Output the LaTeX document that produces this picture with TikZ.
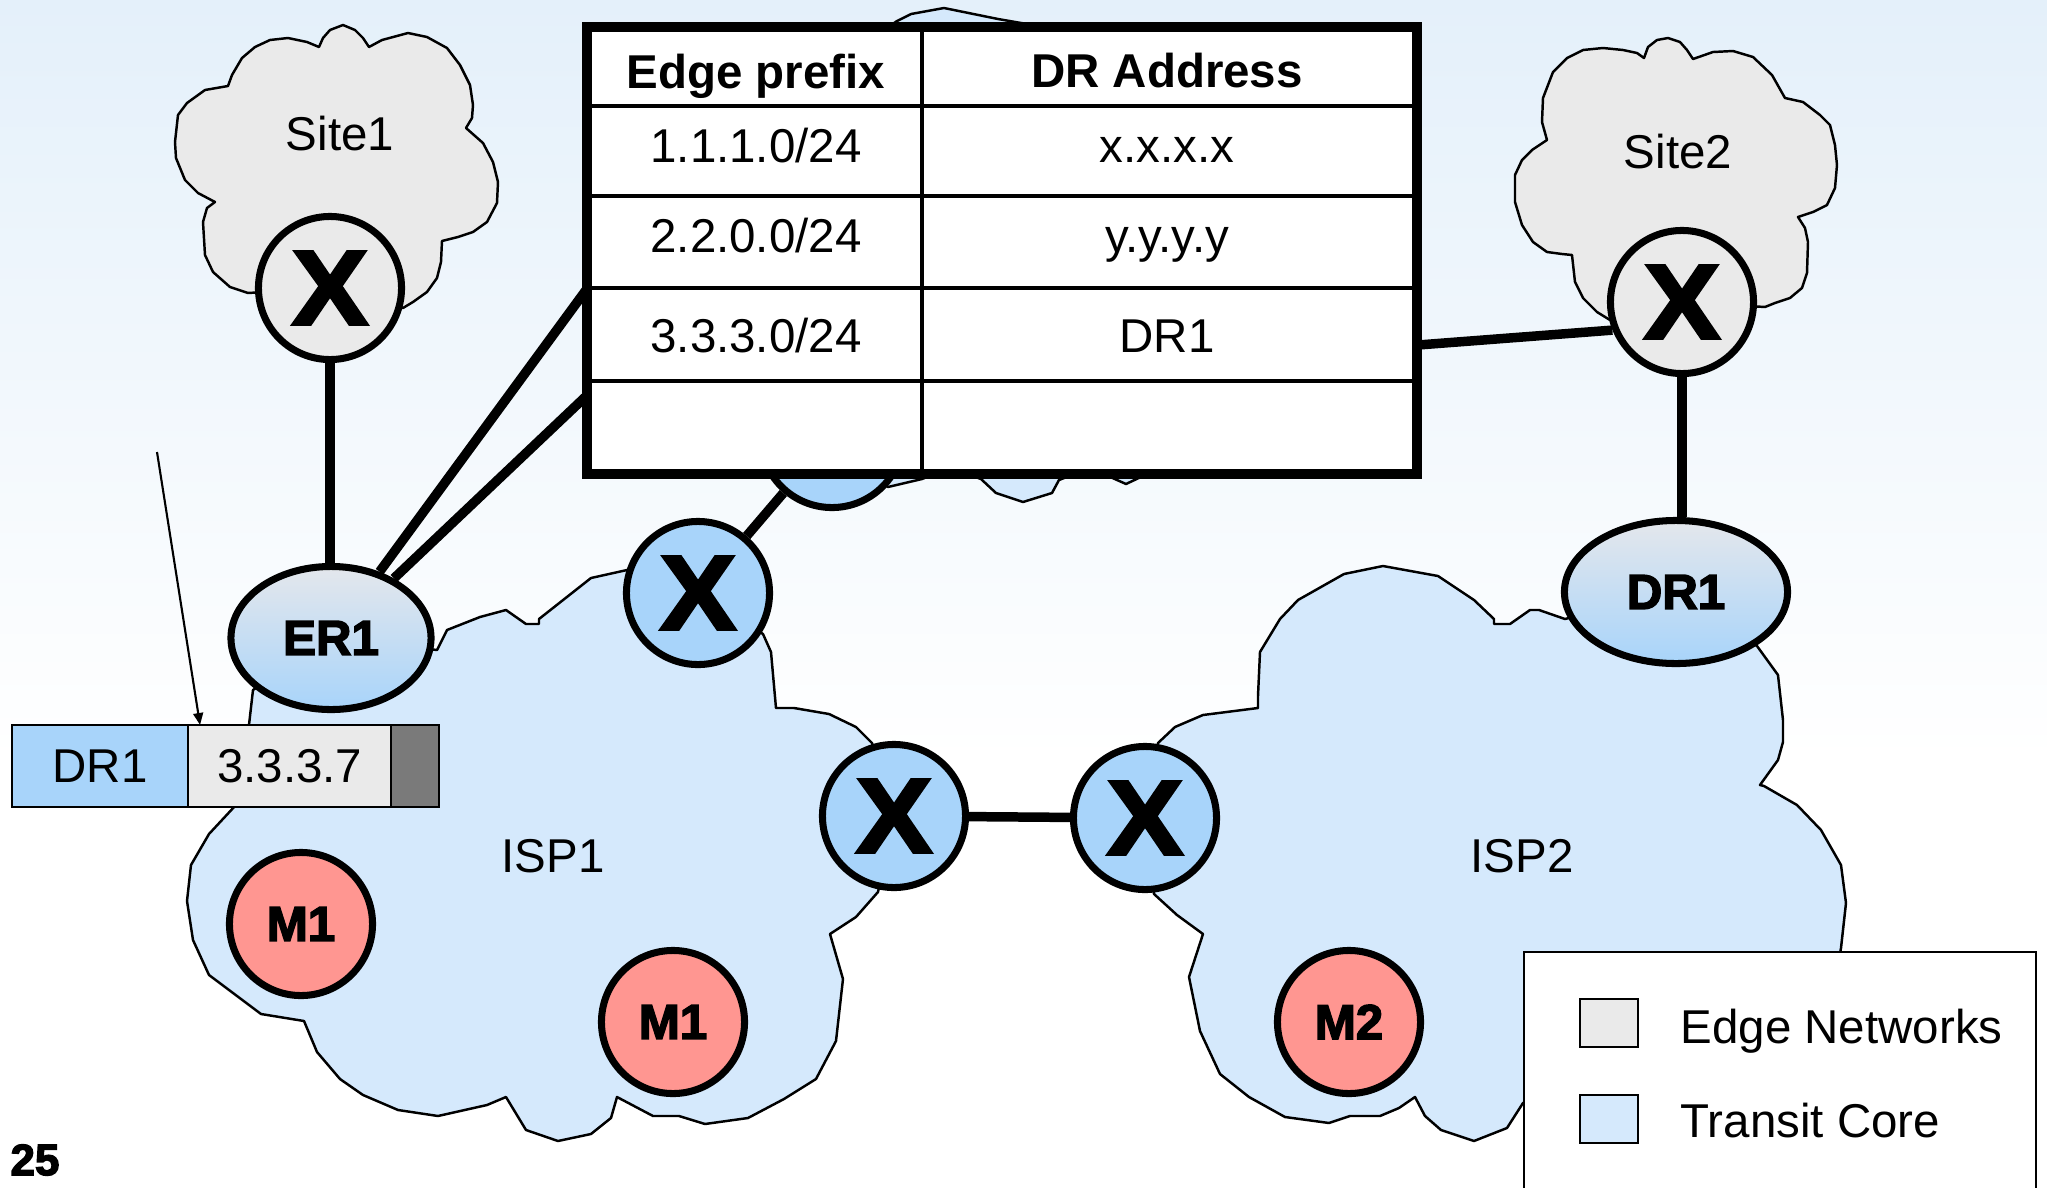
\documentclass[tikz,border=0pt]{standalone}
\usepackage{fontspec}
\setmainfont{Liberation Sans}
\newfontfamily\heavyfont{Liberation Sans Bold}[FakeBold=3]
\newfontfamily\crossfont{Liberation Sans Bold}[FakeBold=3, FakeStretch=1.08]
\usetikzlibrary{positioning,shapes.geometric,arrows.meta}
\definecolor{bgtop}{RGB}{228,240,250}
\definecolor{edgegray}{RGB}{234,234,234}
\definecolor{corefill}{RGB}{213,233,252}
\definecolor{routerblue}{RGB}{168,212,250}
\definecolor{routertop}{RGB}{228,231,236}
\definecolor{mred}{RGB}{255,150,145}
\definecolor{padgray}{RGB}{122,122,122}
\begin{document}
\begin{tikzpicture}[x=0.01cm, y=-0.01cm,
    cloudline/.style={draw=black, line width=0.7pt, line join=round},
    router/.style={circle, draw=black, line width=2pt, minimum size=1.43cm, inner sep=0pt, font=\fontsize{30}{30}\crossfont},
    xcore/.style={router, fill=routerblue},
    xedge/.style={router, fill=edgegray},
    border/.style={ellipse, draw=black, line width=2pt, top color=routertop, bottom color=routerblue, minimum height=1.43cm, inner sep=0pt, font=\fontsize{14}{14}\heavyfont},
    monitor/.style={router, fill=mred, font=\fontsize{14}{14}\heavyfont},
    link/.style={line width=2.7pt},
    lbl/.style={font=\fontsize{13.5}{14}\selectfont},
    tbltxt/.style={lbl, anchor=base},
    tblrule/.style={line width=1.4pt},
    hdrcell/.style={rectangle, draw=black, line width=0.6pt, minimum height=0.82cm, inner sep=0pt, outer sep=0pt, lbl},
    swatch/.style={rectangle, draw=black, line width=0.6pt, minimum width=0.575cm, minimum height=0.485cm, inner sep=0pt}]
  \useasboundingbox (0,0) rectangle (2047,1187);
  \fill[white] (0,0) rectangle (2047,1187);
  \shade[top color=bgtop, bottom color=white] (0,0) rectangle (2047,760);

  \draw[cloudline, fill=corefill] (888,487) -- (922,479) -- (950,468) -- (981,479) -- (996,493) -- (1023,502) -- (1052,493) -- (1059,480) -- (1090,468) -- (1126,484) -- (1160,468) -- (1260,300) -- (1200,60) -- (1050,28) -- (998,19) -- (944,8) -- (911,14) -- (897,21) -- (870,40) -- (790,250) -- (832,436) -- cycle;
  \draw[cloudline, fill=corefill] (437,650) -- (447,630) -- (480,617) -- (506,610) -- (526,624) -- (539,624) -- (539,619) -- (591,578) -- (627,570) -- (698,593) -- (763,634) -- (771,652) -- (776,708) -- (794,708) -- (829,714) -- (856,727) -- (872,743) -- (894,816) -- (878,892) -- (856,917) -- (830,934) -- (843,979) -- (836,1041) -- (816,1079) -- (784,1099) -- (748,1118) -- (705,1124) -- (679,1116) -- (653,1116) -- (617,1097) -- (611,1118) -- (591,1134) -- (558,1141) -- (526,1130) -- (506,1097) -- (487,1105) -- (438,1116) -- (398,1110) -- (363,1095) -- (340,1079) -- (317,1052) -- (304,1021) -- (261,1014) -- (209,975) -- (193,940) -- (187,901) -- (191,865) -- (209,834) -- (235,806) -- (249,725) -- (253,690) -- (331,638) -- cycle;
  \draw[cloudline, fill=corefill] (1158,743) -- (1175,727) -- (1203,715) -- (1258,708) -- (1258,696) -- (1260,652) -- (1280,619) -- (1298,600) -- (1344,574) -- (1383,566) -- (1438,576) -- (1474,600) -- (1494,619) -- (1494,624) -- (1510,624) -- (1530,610) -- (1539,610) -- (1565,619) -- (1674,592) -- (1757,646) -- (1778,675) -- (1783,720) -- (1783,742) -- (1778,760) -- (1760,785) -- (1764,786) -- (1797,805) -- (1821,830) -- (1841,865) -- (1846,903) -- (1841,948) -- (1830,1010) -- (1700,1120) -- (1540,1095) -- (1523,1103) -- (1507,1128) -- (1474,1141) -- (1441,1130) -- (1425,1116) -- (1415,1097) -- (1399,1108) -- (1380,1116) -- (1350,1116) -- (1329,1123) -- (1285,1117) -- (1249,1097) -- (1220,1074) -- (1200,1031) -- (1189,977) -- (1203,934) -- (1177,915) -- (1154,894) -- (1145,818) -- cycle;
  \draw[cloudline, fill=edgegray] (248,293) -- (230,287) -- (213,272) -- (205,255) -- (203,222) -- (207,208) -- (215,202) -- (198,193) -- (185,180) -- (176,158) -- (175,142) -- (178,115) -- (187,103) -- (205,90) -- (228,86) -- (232,75) -- (242,58) -- (255,47) -- (270,40) -- (288,38) -- (307,42) -- (319,47) -- (323,38) -- (330,30) -- (343,25) -- (355,30) -- (363,38) -- (369,47) -- (382,40) -- (408,33) -- (427,37) -- (447,48) -- (460,65) -- (470,85) -- (473,105) -- (472,118) -- (466,128) -- (483,143) -- (493,162) -- (498,182) -- (497,203) -- (487,222) -- (473,232) -- (458,237) -- (442,241) -- (441,262) -- (437,278) -- (427,292) -- (413,302) -- (403,308) -- (330,288) -- cycle;
  \draw[cloudline, fill=edgegray] (1610,320) -- (1597,312) -- (1583,298) -- (1575,282) -- (1572,255) -- (1562,254) -- (1547,252) -- (1533,242) -- (1522,225) -- (1515,202) -- (1515,175) -- (1522,160) -- (1532,150) -- (1547,140) -- (1542,122) -- (1543,98) -- (1553,72) -- (1567,58) -- (1583,50) -- (1603,48) -- (1623,50) -- (1637,53) -- (1644,58) -- (1648,47) -- (1657,40) -- (1668,38) -- (1680,42) -- (1687,50) -- (1693,59) -- (1713,52) -- (1733,51) -- (1753,57) -- (1772,75) -- (1785,98) -- (1803,102) -- (1820,115) -- (1830,125) -- (1835,145) -- (1837,165) -- (1835,188) -- (1827,205) -- (1813,212) -- (1798,217) -- (1805,228) -- (1808,242) -- (1807,273) -- (1802,288) -- (1790,298) -- (1775,303) -- (1765,307) -- (1683,302) -- cycle;

  \node[lbl, anchor=base] (site1) at (340,150) {Site1};
  \node[lbl, anchor=base] (site2) at (1678,168) {Site2};
  \node[lbl, anchor=base] (isp1) at (553,872) {ISP1};
  \node[lbl, anchor=base] (isp2) at (1522,872) {ISP2};

  \node[xedge] (s1x) at (330,288) {X};
  \node[xedge] (s2x) at (1682,302) {X};
  \node[border, minimum width=2.0cm] (er1) at (331,638) {ER1};
  \node[border, minimum width=2.23cm] (dr1) at (1676,592) {DR1};
  \node[xcore] (x1) at (698,593) {X};
  \node[xcore] (x2) at (894,816) {X};
  \node[xcore] (x3) at (1145,818) {X};
  \node[xcore] (hid) at (832,436) {};
  \node[monitor] (m1a) at (301,924) {M1};
  \node[monitor] (m1b) at (673,1022) {M1};
  \node[monitor] (m2) at (1349,1022) {M2};

  \coordinate (tin1) at (600,271);
  \coordinate (tin2) at (600,383);
  \coordinate (tout) at (1405,346);
  \draw[link] (s1x) -- (s1x |- er1.north);
  \draw[link] (s2x) -- (s2x |- dr1.north);
  \draw[link] (er1) -- (tin1);
  \draw[link] (er1) -- (tin2);
  \draw[link] (tout) -- (s2x.202);
  \draw[link] (x1) -- (hid);
  \draw[link] (x2) -- (x3);

  \node[draw=black, fill=white, line width=2.8pt, minimum width=8.30cm, minimum height=4.47cm, inner sep=0pt] (tbl) at (1002,250.5) {};
  \foreach \y in {106,196,288,381}
    \draw[tblrule] (587,\y) -- (1417,\y);
  \draw[tblrule] (922,27) -- (922,474);
  \node[tbltxt, font=\fontsize{13.5}{14}\bfseries] (hpre) at (756,88) {Edge prefix};
  \node[tbltxt, font=\fontsize{13.5}{14}\bfseries] (hdr) at (1167,87) {DR Address};
  \node[tbltxt] (p1) at (756,162) {1.1.1.0/24};
  \node[tbltxt] (a1) at (1167,162) {x.x.x.x};
  \node[tbltxt] (p2) at (756,252) {2.2.0.0/24};
  \node[tbltxt] (a2) at (1167,252) {y.y.y.y};
  \node[tbltxt] (p3) at (756,352) {3.3.3.0/24};
  \node[tbltxt] (a3) at (1167,352) {DR1};

  \node[hdrcell, fill=routerblue, minimum width=1.76cm] (pdr) at (100,766) {DR1};
  \node[hdrcell, fill=edgegray, minimum width=2.03cm, right=0pt of pdr] (paddr) {3.3.3.7};
  \node[hdrcell, fill=padgray, minimum width=0.48cm, right=0pt of paddr] (ppad) {};
  \coordinate (ptr) at (157,452);
  \draw[line width=0.6pt, -{Triangle[length=3.4pt, width=2.8pt]}] (ptr) -- ([xshift=0.12cm]paddr.north west);

  \node[draw=black, fill=white, line width=0.6pt, minimum width=5.12cm, minimum height=2.6cm, inner sep=0pt, anchor=north west] (legend) at (1523,951) {};
  \node[swatch, fill=edgegray] (swedge) at (1609,1023) {};
  \node[swatch, fill=corefill] (swcore) at (1609,1119) {};
  \node[lbl, anchor=base west, inner sep=0pt] (ledge) at (1680,1043) {Edge Networks};
  \node[lbl, anchor=base west, inner sep=0pt] (lcore) at (1680,1137) {Transit Core};

  \node[font=\fontsize{12.5}{13}\heavyfont] (pg) at (35,1160) {25};
\end{tikzpicture}
\end{document}
